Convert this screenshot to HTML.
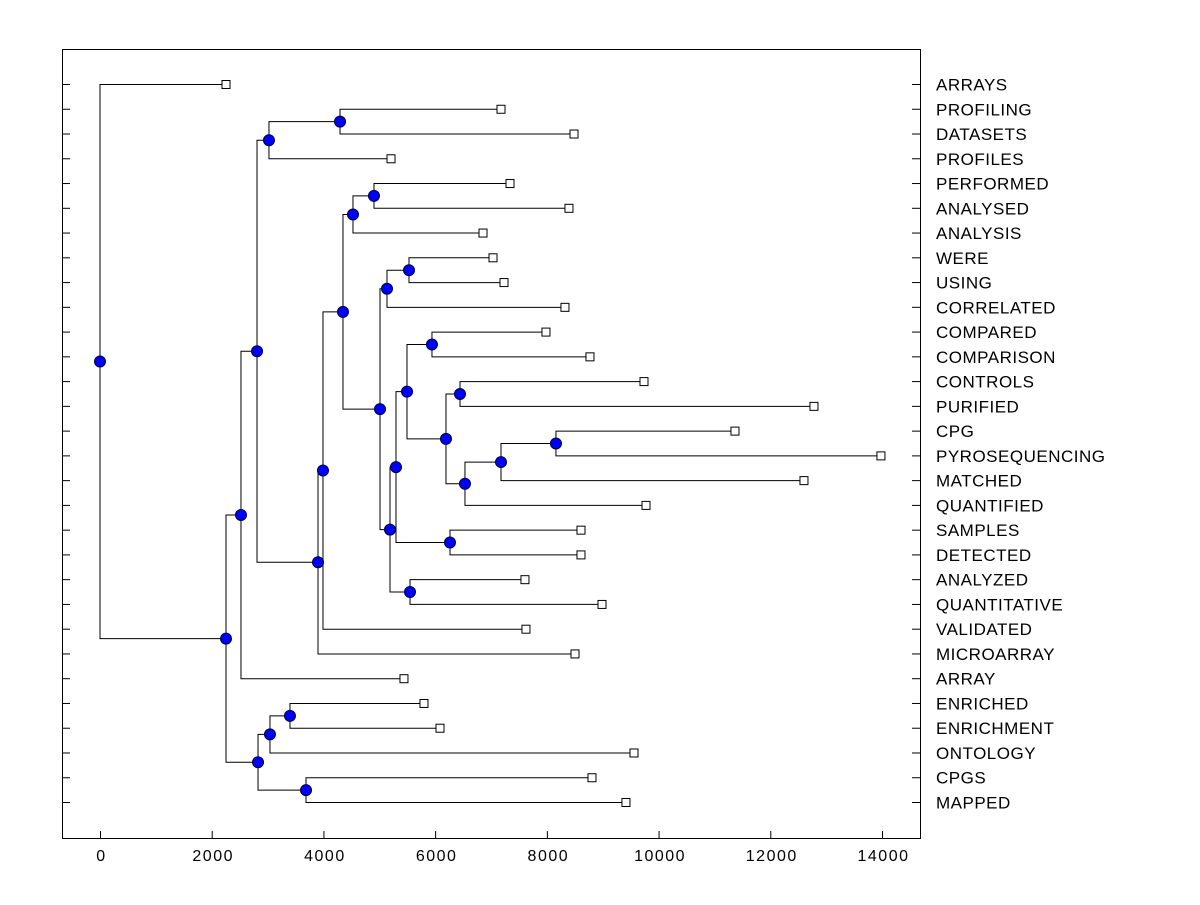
<!DOCTYPE html>
<html><head><meta charset="utf-8"><style>
body{margin:0;background:#fff;}
svg text{font-family:"Liberation Sans",Arial,sans-serif;}
</style></head><body>
<svg id="chart" width="1200" height="900" xmlns="http://www.w3.org/2000/svg">
<rect x="0" y="0" width="1200" height="900" fill="#fff"/>
<rect x="62.5" y="49.5" width="858" height="789" fill="none" stroke="#000"/>
<g id="links"></g>
<g id="marks"></g>
<g id="axes"></g>
</svg>
<script>
const leafNames=["ARRAYS","PROFILING","DATASETS","PROFILES","PERFORMED","ANALYSED","ANALYSIS","WERE","USING","CORRELATED","COMPARED","COMPARISON","CONTROLS","PURIFIED","CPG","PYROSEQUENCING","MATCHED","QUANTIFIED","SAMPLES","DETECTED","ANALYZED","QUANTITATIVE","VALIDATED","MICROARRAY","ARRAY","ENRICHED","ENRICHMENT","ONTOLOGY","CPGS","MAPPED"];
const leafValues=[2256,7179,8486,5210,7340,8396,6857,7036,7233,8324,7984,8772,9739,12782,11368,13981,12603,9775,8611,8611,7608,8987,7626,8504,5442,5800,6087,9560,8808,9416];
const nodeNames=["G","E","L","J","O","M","T","V","Y","X","W","U","R","S","P","Q","N","K","I","H","F","D","B","AB","Z","AA","C","A","ROOT"];
const nodeLeft=["PROFILING","G","PERFORMED","L","WERE","O","COMPARED","CONTROLS","CPG","Y","X","V","T","SAMPLES","R","ANALYZED","P","M","J","I","H","E","D","ENRICHED","AB","CPGS","Z","B","ARRAYS"];
const nodeRight=["DATASETS","PROFILES","ANALYSED","ANALYSIS","USING","CORRELATED","COMPARISON","PURIFIED","PYROSEQUENCING","MATCHED","QUANTIFIED","W","U","DETECTED","S","QUANTITATIVE","Q","N","K","VALIDATED","MICROARRAY","F","ARRAY","ENRICHMENT","ONTOLOGY","MAPPED","AA","C","A"];
const nodeHeights=[4297,3025,4905,4529,5532,5138,5943,6445,8163,7179,6534,6194,5496,6266,5299,5550,5192,5013,4350,3992,3903,2811,2524,3401,3043,3688,2829,2256,0];
const xTicks=[0,2000,4000,6000,8000,10000,12000,14000];

const NS="http://www.w3.org/2000/svg";
const xScale=v=>100+v*782/14000;
const yTop=84.5, yStep=718/29;
const yScale=i=>yTop+i*yStep;
const links=document.getElementById('links'),marks=document.getElementById('marks'),axes=document.getElementById('axes');
function mk(tag,attrs,parent){const e=document.createElementNS(NS,tag);for(const k in attrs)e.setAttribute(k,attrs[k]);parent.appendChild(e);return e;}
const pos={};
leafNames.forEach((n,i)=>{pos[n]={x:xScale(leafValues[i]),y:yScale(i)};});
nodeNames.forEach((n,i)=>{
  const a=pos[nodeLeft[i]],b=pos[nodeRight[i]];
  const x=xScale(nodeHeights[i]);
  pos[n]={x:x,y:(a.y+b.y)/2};
  const p=mk('path',{d:`M${a.x},${a.y}H${x}V${b.y}H${b.x}`,fill:'none',stroke:'#000','stroke-width':1},links);
  
  
});
nodeNames.forEach((n)=>{
  const c=mk('circle',{cx:pos[n].x,cy:pos[n].y,r:5.5,fill:'#0000ff',stroke:'#000033','stroke-width':1},marks);
  
  
});
leafNames.forEach((n,i)=>{
  const p=pos[n];
  const r=mk('rect',{x:p.x-4,y:p.y-4,width:8,height:8,fill:'#fff',stroke:'#000','stroke-width':1},marks);
  
  
  const t=mk('line',{x1:62,x2:70,y1:p.y,y2:p.y,stroke:'#000'},axes);
  
  
  const t2=mk('line',{x1:912,x2:920,y1:p.y,y2:p.y,stroke:'#000'},axes);
  
  
  const l=mk('text',{x:936,y:p.y+6,'font-size':17,'letter-spacing':0.5,fill:'#000'},axes);
  l.textContent=n;
  
  
});
xTicks.forEach(v=>{
  const x=xScale(v)+0.5;
  const t=mk('line',{x1:x,x2:x,y1:831,y2:838,stroke:'#000'},axes);
  
  
  const l=mk('text',{x:x+1,y:861,'font-size':16,'letter-spacing':1.5,'text-anchor':'middle',fill:'#000'},axes);
  l.textContent=v;
  
  
});
</script>
</body></html>
